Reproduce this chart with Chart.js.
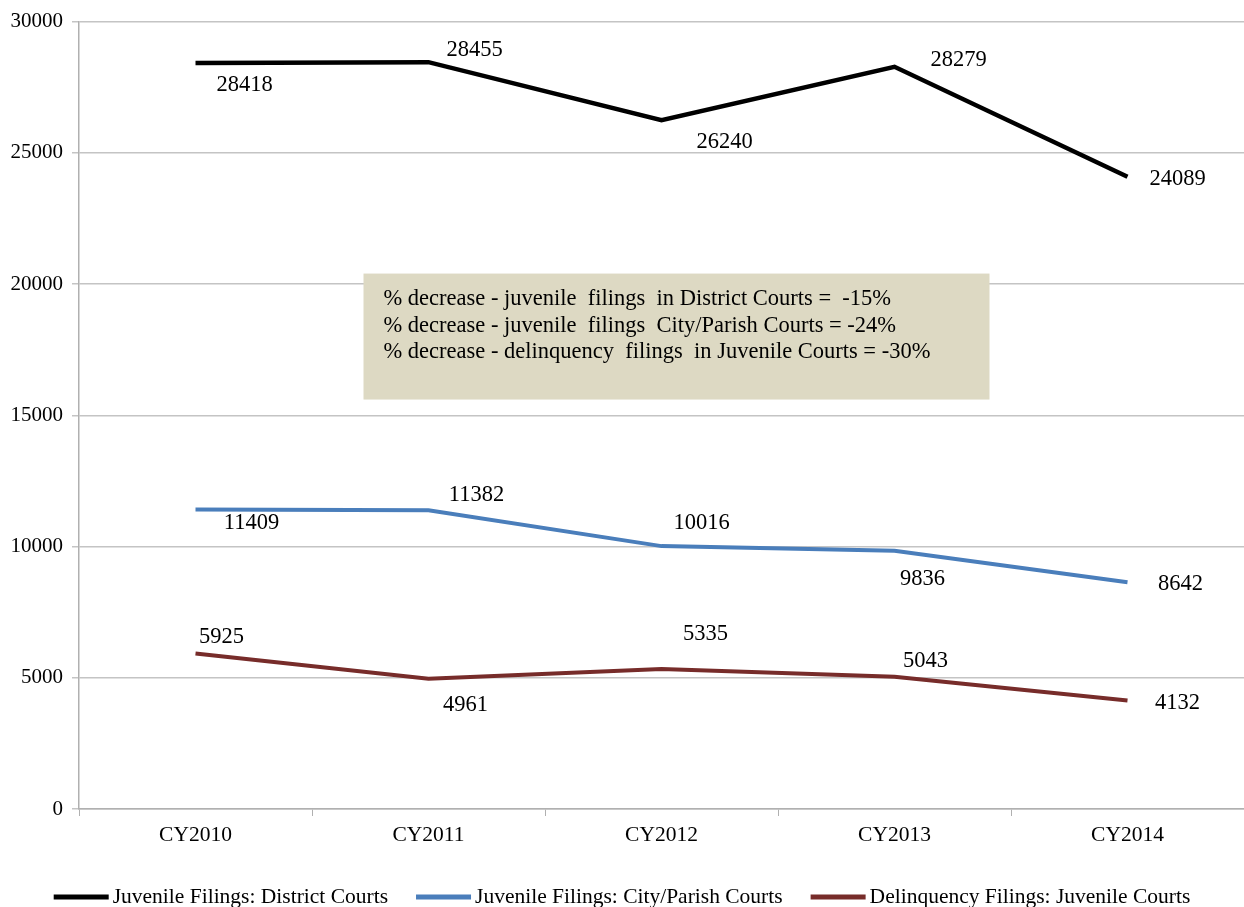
<!DOCTYPE html>
<html>
<head>
<meta charset="utf-8">
<script src="https://cdn.jsdelivr.net/npm/chart.js@4/dist/chart.umd.min.js"></script>
<style>
  html, body { margin: 0; padding: 0; background: #fff; overflow: hidden; }
  #wrap { position: absolute; left: 0; top: 0; width: 1244px; height: 907px; }
</style>
</head>
<body>
<div id="wrap"><canvas id="filingsChart"></canvas></div>
<script>
// Chart data
const years = ['CY2010', 'CY2011', 'CY2012', 'CY2013', 'CY2014'];
const districtCourts = [28418, 28455, 26240, 28279, 24089];
const cityParishCourts = [11409, 11382, 10016, 9836, 8642];
const juvenileCourts = [5925, 4961, 5335, 5043, 4132];
const yTicks = [0, 5000, 10000, 15000, 20000, 25000, 30000];
const noteLines = [
    '% decrease - juvenile  filings  in District Courts =  -15%',
    '% decrease - juvenile  filings  City/Parish Courts = -24%',
    '% decrease - delinquency  filings  in Juvenile Courts = -30%'
];

const SERIF = '"Liberation Serif", "Times New Roman", serif';

// Label placement per series (pixel offsets from the point)
const labelOffsets = [
    [[49, 22], [46, -12], [63, 22], [64, -7], [50, 2]],
    [[56, 14], [48, -15], [40, -23], [28, 28], [53, 2]],
    [[26, -16], [37, 26], [44, -35], [31, -16], [50, 3]]
];

// Draws value labels next to each point
const valueLabels = {
    id: 'valueLabels',
    afterDatasetsDraw(chart) {
        const ctx = chart.ctx;
        ctx.save();
        ctx.font = '22.5px ' + SERIF;
        ctx.fillStyle = '#000';
        ctx.textAlign = 'center';
        ctx.textBaseline = 'middle';
        chart.data.datasets.forEach((ds, di) => {
            const meta = chart.getDatasetMeta(di);
            meta.data.forEach((pt, i) => {
                const off = labelOffsets[di][i];
                ctx.fillText(String(ds.data[i]), pt.x + off[0], pt.y + off[1]);
            });
        });
        ctx.restore();
    }
};

// Draws the shaded note box in the chart area
const noteBox = {
    id: 'noteBox',
    afterDatasetsDraw(chart) {
        const ctx = chart.ctx;
        const y = chart.scales.y;
        const x = chart.scales.x;
        const left = x.getPixelForValue(0) + 168;
        const top = y.getPixelForValue(20400);
        const bottom = y.getPixelForValue(15600);
        const right = left + 626;
        ctx.save();
        ctx.fillStyle = '#DDD9C3';
        ctx.fillRect(left, top, right - left, bottom - top);
        ctx.font = '22.5px ' + SERIF;
        ctx.fillStyle = '#000';
        ctx.textAlign = 'left';
        ctx.textBaseline = 'middle';
        noteLines.forEach((line, i) => {
            ctx.fillText(line, left + 20, top + 26 + i * 26.5);
        });
        ctx.restore();
    }
};

// Legend row drawn by hand: line sample close to its text, gaps between items
const bottomLegend = {
    id: 'bottomLegend',
    afterDraw(chart) {
        const ctx = chart.ctx;
        const sample = 55, textGap = 4, itemGap = 28;
        ctx.save();
        ctx.font = '21.5px ' + SERIF;
        ctx.textAlign = 'left';
        ctx.textBaseline = 'middle';
        const items = chart.data.datasets.map(ds => ({
            text: ds.label,
            color: ds.borderColor,
            w: sample + textGap + ctx.measureText(ds.label).width
        }));
        const total = items.reduce((s, it) => s + it.w, 0) + itemGap * (items.length - 1);
        let x = (chart.width - total) / 2;
        const y = chart.chartArea.bottom + 88;
        items.forEach(it => {
            ctx.fillStyle = it.color;
            ctx.fillRect(x, y - 2.5, sample, 5);
            ctx.fillStyle = '#000';
            ctx.fillText(it.text, x + sample + textGap, y);
            x += it.w + itemGap;
        });
        ctx.restore();
    }
};

const ctx = document.getElementById('filingsChart').getContext('2d');
const filingsChart = new Chart(ctx, {
    type: 'line',
    data: {
        labels: years,
        datasets: [
            {
                label: 'Juvenile Filings: District Courts',
                data: districtCourts,
                borderColor: '#000000',
                backgroundColor: '#000000',
                borderWidth: 4.5
            },
            {
                label: 'Juvenile Filings: City/Parish Courts',
                data: cityParishCourts,
                borderColor: '#4A7EBB',
                backgroundColor: '#4A7EBB',
                borderWidth: 4
            },
            {
                label: 'Delinquency Filings: Juvenile Courts',
                data: juvenileCourts,
                borderColor: '#772C2A',
                backgroundColor: '#772C2A',
                borderWidth: 4
            }
        ]
    },
    options: {
        responsive: true,
        maintainAspectRatio: false,
        animation: false,
        layout: { padding: { top: 8, right: 0, left: 0, bottom: 36 } },
        elements: {
            point: { radius: 0, hoverRadius: 0 },
            line: { tension: 0, borderCapStyle: 'butt', borderJoinStyle: 'miter' }
        },
        scales: {
            x: {
                offset: true,
                border: { color: '#B0B0B0', width: 1.5 },
                grid: { drawOnChartArea: false, drawTicks: true, tickLength: 7, offset: true, color: '#B0B0B0' },
                ticks: { color: '#000', font: { family: SERIF, size: 21.5 }, padding: 6, maxRotation: 0 },
                afterFit(scale) { scale.height = 62; }
            },
            y: {
                min: 0,
                max: 30000,
                afterBuildTicks(scale) { scale.ticks = yTicks.map(v => ({ value: v })); },
                border: { color: '#B0B0B0', width: 1.5 },
                grid: { color: '#C4C4C4', lineWidth: 1.5, tickLength: 7 },
                ticks: {
                    color: '#000',
                    font: { family: SERIF, size: 21 },
                    padding: 9,
                    callback: v => String(v)
                },
                afterFit(scale) { scale.width = 79; }
            }
        },
        plugins: {
            legend: { display: false },
            tooltip: { enabled: false }
        }
    },
    plugins: [noteBox, valueLabels, bottomLegend]
});
</script>
</body>
</html>
